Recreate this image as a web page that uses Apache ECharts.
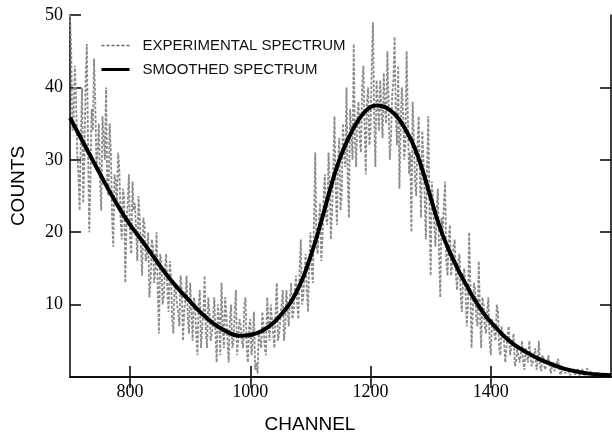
<!DOCTYPE html>
<html>
<head>
<meta charset="utf-8">
<script src="https://cdn.jsdelivr.net/npm/echarts@6/dist/echarts.min.js"></script>
<style>
html,body{margin:0;padding:0;background:#fff;}
#c{width:612px;height:438px;}
</style>
</head>
<body>
<div id="c"></div>
<script>
// ---- data ----
const xTickValues = [800, 1000, 1200, 1400];
const yTickValues = [10, 20, 30, 40, 50];
const seriesNames = ['EXPERIMENTAL SPECTRUM', 'SMOOTHED SPECTRUM'];
const axisNames = ['CHANNEL', 'COUNTS'];

// experimental spectrum, channels 700, 704, 708 ...
const expStartA = 700;
const expCountsA = [
  50, 34, 43, 31, 23, 40, 30, 46, 20, 37,
  44, 29, 35, 23, 33, 40, 25, 31, 18, 27,
  31, 22, 26, 13, 24, 19, 27, 24, 16, 22,
  14, 21, 17, 11, 19, 13, 20, 6, 16, 11,
  17, 9, 14, 6, 12, 9, 14, 5, 11, 8,
  13, 5, 10, 3, 12, 7, 14, 4, 9, 6,
  11, 2, 8, 13, 4, 9, 2, 10, 5, 12,
  3, 7, 4, 11, 2, 8, 5, 1, 0.5, 6,
  9, 4, 11, 5, 8, 4, 13, 6, 10, 5,
  12, 7, 13, 9, 14, 8, 19, 11, 17, 9,
  20, 13, 31, 17, 24, 19, 28, 21, 27, 23,
  36, 21, 33, 25, 31, 40, 22, 34, 46, 29,
  38, 31, 43, 28, 40, 34, 49, 29, 38, 41,
  33, 37, 45, 30, 39, 47, 32, 26, 40, 30,
  45, 28, 20, 33, 25, 36, 22, 30, 19, 36,
  14, 24, 18, 26, 11, 20, 27, 14, 21, 16,
  19, 12, 17, 9, 15, 7, 20, 4, 13, 8,
  16, 4, 10, 6, 11, 3, 8, 5, 9, 3,
  7, 2, 6, 3, 5, 1.5, 4, 2, 5, 1,
  4, 5, 1.5, 3, 1, 5, 0.8, 2.5, 1, 3,
  0.5, 2, 1, 2.5, 0.3, 1.5, 0.5, 1.2, 0.2, 1.2,
  0.3, 1.2, 0.2, 1.1, 0.2, 1.2, 0.3, 1.0
];
// experimental spectrum, channels 702, 706, 710 ...
const expStartB = 702;
const expCountsB = [
  45, 36, 39, 28, 33, 24, 41, 32, 27, 34,
  38, 31, 27, 36, 30, 26, 35, 22, 28, 24,
  29, 19, 25, 21, 28, 17, 23, 20, 25, 18,
  22, 16, 20, 13, 18, 15, 12, 17, 10, 15,
  12, 16, 8, 13, 10, 7, 12, 9, 14, 6,
  9, 11, 6, 10, 4, 9, 6, 11, 5, 8,
  6, 10, 3, 7, 11, 5, 8, 4, 9, 3,
  8, 5, 10, 4, 7, 3, 9, 2, 6, 4,
  7, 3, 8, 10, 6, 9, 5, 8, 12, 7,
  9, 11, 8, 12, 10, 15, 10, 14, 12, 16,
  15, 22, 18, 21, 16, 25, 22, 31, 19, 29,
  26, 30, 23, 35, 29, 27, 37, 30, 33, 36,
  33, 40, 35, 38, 32, 43, 36, 41, 34, 37,
  42, 35, 38, 33, 41, 36, 43, 34, 37, 32,
  36, 31, 38, 27, 32, 28, 34, 25, 29, 23,
  27, 21, 23, 17, 22, 24, 16, 19, 14, 18,
  14, 16, 11, 14, 12, 10, 13, 9, 12, 7,
  9, 11, 7, 9, 5, 8, 6, 10, 4, 7,
  5, 4, 7, 3, 6, 2, 4, 3, 2, 4,
  2, 3, 2, 4, 2, 1.5, 3, 1, 2, 1.5,
  1.5, 0.8, 2, 1, 0.8, 1.5, 0.6, 1, 0.4, 0.8,
  0.6, 0.8, 0.3, 0.7, 0.4, 0.9, 0.3
];
const expStep = 4;

// smoothed spectrum
const smoothChannels = [700,720,740,760,780,800,820,840,860,880,900,920,940,960,980,1000,1020,1040,1060,1070,1080,1090,1100,1110,1120,1130,1140,1150,1160,1170,1180,1190,1200,1210,1220,1230,1240,1250,1260,1270,1280,1290,1300,1310,1320,1330,1340,1350,1360,1370,1380,1390,1400,1420,1440,1460,1480,1500,1520,1540,1560,1580,1600];
const smoothCounts =   [35.8,32.7,29.6,26.5,23.6,21.0,18.8,16.5,14.2,12.2,10.4,8.7,7.3,6.3,5.7,5.8,6.4,7.6,9.5,10.7,12.3,14.2,16.6,19.2,22.1,25.1,28.0,30.4,32.4,34.1,35.5,36.6,37.3,37.5,37.4,37.0,36.3,35.3,33.9,32.3,30.2,27.6,24.8,22.0,19.6,17.6,15.8,14.1,12.6,11.1,9.8,8.6,7.6,5.8,4.4,3.4,2.5,1.8,1.2,0.8,0.5,0.35,0.25];

// ---- build ----
const expData = [];
for (let i = 0; i < expCountsA.length; i++) {
  expData.push([expStartA + i * expStep, expCountsA[i]]);
  if (i < expCountsB.length) expData.push([expStartB + i * expStep, expCountsB[i]]);
}
const smoothData = smoothChannels.map((c, i) => [c, smoothCounts[i]]);

const chart = echarts.init(document.getElementById('c'), null, {renderer: 'canvas'});
const axisLine = {show: true, lineStyle: {color: '#000', width: 1.5}};
const serif = '"Liberation Serif", "Times New Roman", serif';
const sans = '"Liberation Sans", Arial, sans-serif';
const tickStyle = {color: '#000', width: 1.5};

chart.setOption({
  animation: false,
  backgroundColor: '#fff',
  grid: {left: 70, right: 1, top: 15, bottom: 61, containLabel: false},
  legend: {
    orient: 'vertical',
    left: 95, top: 33,
    itemGap: 9,
    itemWidth: 28, itemHeight: 14,
    itemStyle: {opacity: 0},
    textStyle: {fontFamily: sans, fontSize: 15, color: '#111', padding: [0, 0, 0, 8]},
    data: [
      {name: seriesNames[0], lineStyle: {width: 1.4, type: [3, 2], color: '#666'}},
      {name: seriesNames[1], lineStyle: {width: 3, color: '#000'}}
    ]
  },
  xAxis: [{
    type: 'value', min: 700, max: 1600, position: 'bottom',
    axisLine: axisLine,
    splitLine: {show: false},
    axisTick: {show: true, inside: true, length: 11, customValues: xTickValues, lineStyle: tickStyle},
    axisLabel: {show: true, customValues: xTickValues, margin: 6, fontFamily: serif, fontSize: 18, color: '#000', formatter: v => String(v)}
  }, {
    type: 'value', min: 700, max: 1600, position: 'top',
    axisLine: axisLine,
    splitLine: {show: false},
    axisTick: {show: true, inside: true, length: 11, customValues: xTickValues, lineStyle: tickStyle},
    axisLabel: {show: false}
  }],
  yAxis: [{
    type: 'value', min: 0, max: 50, interval: 10, position: 'left',
    axisLine: axisLine,
    splitLine: {show: false},
    axisTick: {show: true, inside: true, length: 11, customValues: yTickValues, lineStyle: tickStyle},
    axisLabel: {show: true, customValues: yTickValues, margin: 7, fontFamily: serif, fontSize: 18, color: '#000', formatter: v => String(v)}
  }, {
    type: 'value', min: 0, max: 50, interval: 10, position: 'right',
    axisLine: axisLine,
    splitLine: {show: false},
    axisTick: {show: true, inside: true, length: 11, customValues: [10, 20, 30, 40], lineStyle: tickStyle},
    axisLabel: {show: false}
  }],
  graphic: [
    {type: 'text', x: 310, y: 425, style: {text: axisNames[0], textAlign: 'center', textVerticalAlign: 'middle', fontFamily: sans, fontSize: 19, fill: '#000'}},
    {type: 'text', x: 19, y: 186, rotation: Math.PI / 2, style: {text: axisNames[1], textAlign: 'center', textVerticalAlign: 'middle', fontFamily: sans, fontSize: 19, fill: '#000'}}
  ],
  series: [{
    name: seriesNames[0],
    type: 'line',
    data: expData,
    symbol: 'none',
    smooth: false,
    clip: true,
    lineStyle: {color: '#8a8a8a', width: 1.8, type: [3, 1.6]},
    itemStyle: {color: '#8a8a8a'},
    z: 2
  }, {
    name: seriesNames[1],
    type: 'line',
    data: smoothData,
    symbol: 'none',
    smooth: 0.3,
    clip: true,
    lineStyle: {color: '#000', width: 4},
    itemStyle: {color: '#000'},
    z: 3
  }]
});
</script>
</body>
</html>
